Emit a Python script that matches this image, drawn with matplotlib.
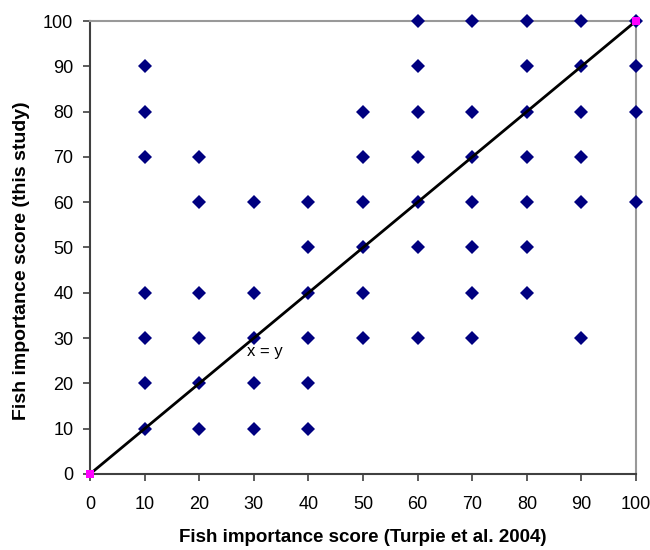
import matplotlib.pyplot as plt
import numpy as np

plt.rcParams['font.family'] = ['Liberation Sans', 'DejaVu Sans']

# scores per Turpie et al. 2004 value (x) -> scores found in this study (y)
turpie_scores = [10, 20, 30, 40, 50, 60, 70, 80, 90, 100]
study_scores = [
    [90, 80, 70, 40, 30, 20, 10],
    [70, 60, 40, 30, 20, 10],
    [60, 40, 30, 20, 10],
    [60, 50, 40, 30, 20, 10],
    [80, 70, 60, 50, 40, 30],
    [100, 90, 80, 70, 60, 50, 30],
    [100, 80, 70, 60, 50, 40, 30],
    [100, 90, 80, 70, 60, 50, 40],
    [100, 90, 80, 70, 60, 30],
    [100, 90, 80, 60],
]
line_x = [0, 100]
line_y = [0, 100]

xs = []
ys = []
for x, col in zip(turpie_scores, study_scores):
    for y in col:
        xs.append(x)
        ys.append(y)

fig = plt.figure(figsize=(6.5, 5.5), dpi=100)
ax = fig.add_axes([0.1385, 0.1382, 0.84, 0.8236])

ax.plot(xs, ys, 'D', color='#000080', markersize=7, markeredgewidth=0, clip_on=False, zorder=3)
ax.plot(line_x, line_y, color='black', lw=2, zorder=4, clip_on=False)
ax.plot(line_x, line_y, 's', color='#ff00ff', markersize=6, markeredgewidth=0, zorder=5, clip_on=False)
ax.text(32, 27, 'x = y', fontsize=12, ha='center', va='center', zorder=6)

ax.set_xlim(0, 100)
ax.set_ylim(0, 100)
ax.set_xticks(np.arange(0, 101, 10))
ax.set_yticks(np.arange(0, 101, 10))
ax.tick_params(direction='out', length=5, width=1.2, color='#404040', labelsize=13)
ax.tick_params(axis='x', pad=11)
ax.tick_params(axis='y', pad=7)

for s in ['left', 'bottom']:
    ax.spines[s].set_color('#404040')
    ax.spines[s].set_linewidth(1.5)
for s in ['top', 'right']:
    ax.spines[s].set_color('#999999')
    ax.spines[s].set_linewidth(1.5)

ax.set_xlabel('Fish importance score (Turpie et al. 2004)', fontsize=13.5, fontweight='bold')
ax.set_ylabel('Fish importance score (this study)', fontsize=14, fontweight='bold')
ax.xaxis.set_label_coords(0.5, -0.1406)
ax.yaxis.set_label_coords(-0.126, 0.47)
ax.xaxis.label.set_va('center')
ax.yaxis.label.set_va('center')

fig.savefig('out.png', dpi=100)
